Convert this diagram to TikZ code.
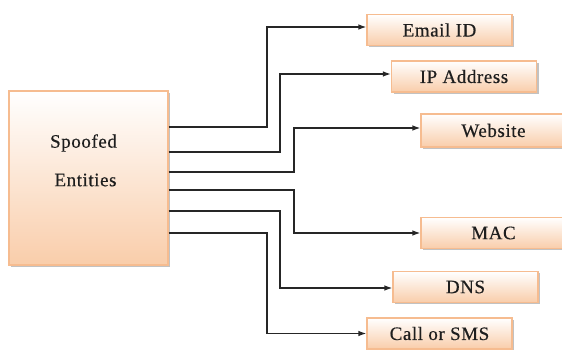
\documentclass[tikz,border=0pt]{standalone}
\usepackage{fontspec}
\setmainfont{Liberation Serif}[LetterSpace=3,FakeBold=0.4]
\usetikzlibrary{shadows,arrows.meta}
\definecolor{peach}{HTML}{F9CDAA}
\definecolor{peachedge}{HTML}{F6BC90}
\definecolor{txt}{HTML}{1E1E1E}
\tikzset{
  ent/.style={draw=peachedge, line width=1.1pt, top color=white, bottom color=peach,
    drop shadow={shadow xshift=2pt, shadow yshift=-2pt, fill=black!40, opacity=0.6},
    minimum width=145pt, minimum height=31pt, inner sep=0pt,
    font=\fontsize{19}{19}\selectfont, text=txt},
  mainbox/.style={draw=peachedge, line width=1.1pt, top color=white, bottom color=peach,
    drop shadow={shadow xshift=2pt, shadow yshift=-2pt, fill=black!40, opacity=0.6},
    minimum width=159pt, minimum height=174pt, inner sep=0pt},
  lbl/.style={font=\fontsize{19}{19}\selectfont, text=txt},
  conn/.style={draw=black!85, line width=1.3pt, -{Latex[length=8pt,width=5.5pt]}}
}
\begin{document}
\begin{tikzpicture}[x=1pt,y=1pt]
\useasboundingbox (0,0) rectangle (562,350);
\node[mainbox] (main) at (88.5,172) {};
\node[lbl] (l1) at (83.5,207) {Spoofed};
\node[lbl] (l2) at (85.5,170) {Entities};
\node[ent] (email) at (439.5,320) {Email ID};
\node[ent] (ip) at (464,273.5) {IP Address};
\node[ent, minimum height=33pt] (web) at (493.5,219.5) {Website};
\node[ent] (mac) at (493.5,117) {MAC};
\node[ent] (dns) at (465.5,63) {DNS};
\node[ent] (call) at (439.5,16.5) {Call or SMS};
\coordinate (v1) at (267,0);
\coordinate (v2) at (280,0);
\coordinate (v3) at (294,0);
\draw[conn] (main.east |- 0,223) -| ([yshift=3pt]v1 |- email.west) -- ([yshift=3pt]email.west);
\draw[conn] (main.east |- 0,198) -| ([yshift=2.5pt]v2 |- ip.west) -- ([yshift=2.5pt]ip.west);
\draw[conn] (main.east |- 0,178) -| ([yshift=2.5pt]v3 |- web.west) -- ([yshift=2.5pt]web.west);
\draw[conn] (main.east |- 0,160) -| (v3 |- mac.west) -- (mac.west);
\draw[conn] (main.east |- 0,139) -| ([yshift=-1pt]v2 |- dns.west) -- ([yshift=-1pt]dns.west);
\draw[conn] (main.east |- 0,117) -| (v1 |- call.west) -- (call.west);
\end{tikzpicture}
\end{document}
